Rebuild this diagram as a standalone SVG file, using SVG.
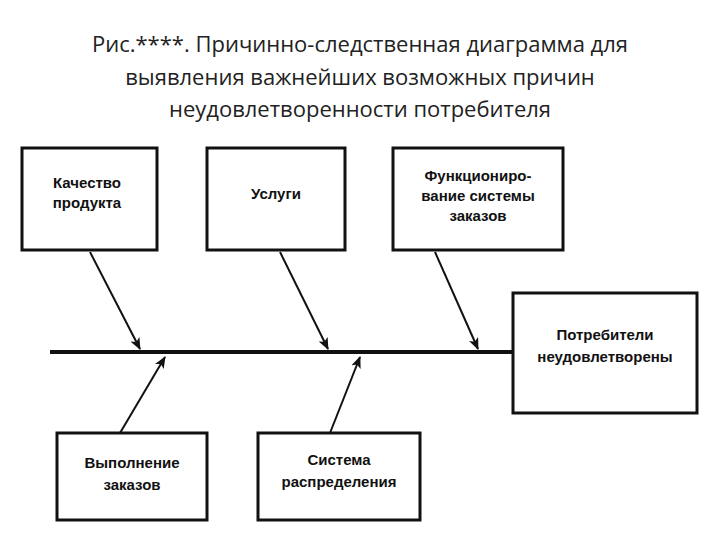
<svg xmlns="http://www.w3.org/2000/svg" width="720" height="540" viewBox="0 0 720 540">
<defs>
<style>
.t{font-family:"Open Sans","Liberation Sans",sans-serif;font-size:22px;fill:#222;text-anchor:middle}
.b{fill:#fff;stroke:#111;stroke-width:3}
.l{font-family:"Liberation Sans",Arial,sans-serif;font-size:15px;font-weight:bold;fill:#111;text-anchor:middle}
.c{stroke:#111;stroke-width:2;fill:none;marker-end:url(#a)}
</style>
<marker id="a" markerWidth="12" markerHeight="10" refX="11" refY="5" orient="auto" markerUnits="userSpaceOnUse">
<path d="M0,0 L12,5 L0,10 L3,5 Z" fill="#111"/>
</marker>
</defs>
<rect width="720" height="540" fill="#fff"/>
<text class="t" x="360" y="52">Рис.****. Причинно-следственная диаграмма для</text>
<text class="t" x="360" y="85">выявления важнейших возможных причин</text>
<text class="t" x="360" y="117">неудовлетворенности потребителя</text>
<g id="connectors">
<line x1="50" y1="352" x2="513" y2="352" stroke="#111" stroke-width="4"/>
<line class="c" x1="90" y1="252" x2="140" y2="349"/>
<line class="c" x1="280" y1="252" x2="328" y2="349"/>
<line class="c" x1="435" y1="252" x2="478" y2="349"/>
<line class="c" x1="120" y1="433" x2="165" y2="357"/>
<line class="c" x1="330" y1="433" x2="360" y2="357"/>
</g>
<g id="n1"><rect class="b" x="22" y="148" width="135" height="102"/><text class="l" x="87" y="188">Качество</text><text class="l" x="87" y="208">продукта</text></g>
<g id="n2"><rect class="b" x="207" y="148" width="138" height="102"/><text class="l" x="276" y="199">Услуги</text></g>
<g id="n3"><rect class="b" x="393" y="148" width="170" height="102"/><text class="l" x="478" y="181">Функциониро-</text><text class="l" x="478" y="201">вание системы</text><text class="l" x="478" y="221">заказов</text></g>
<g id="n4"><rect class="b" x="513" y="293" width="184" height="120"/><text class="l" x="605" y="340">Потребители</text><text class="l" x="605" y="362">неудовлетворены</text></g>
<g id="n5"><rect class="b" x="57" y="433" width="150" height="87"/><text class="l" x="132" y="468">Выполнение</text><text class="l" x="132" y="490">заказов</text></g>
<g id="n6"><rect class="b" x="258" y="433" width="162" height="87"/><text class="l" x="339" y="465">Система</text><text class="l" x="339" y="487">распределения</text></g>
</svg>
